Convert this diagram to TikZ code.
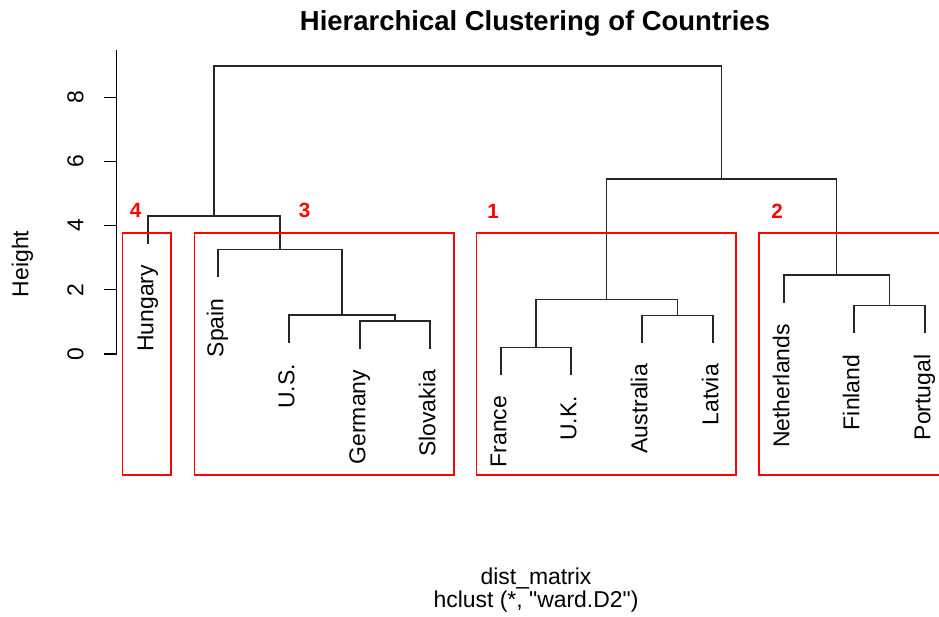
\documentclass[tikz,border=0pt]{standalone}
\usepackage{fontspec}
\setmainfont{Liberation Sans}

\tikzset{every picture/.style={line width=0.75pt}}
\tikzset{
  link/.style={draw=black!85, line width=1.1pt},
  grpbox/.style={draw=red, line width=1pt},
  leaflbl/.style={rotate=90, anchor=base east, inner sep=0pt, font=\fontsize{17.2}{20}\selectfont},
  ticklbl/.style={rotate=90, anchor=base, inner sep=0pt, font=\fontsize{17.2}{20}\selectfont},
  grplbl/.style={text=red, inner sep=0pt, font=\fontsize{15.5}{18}\selectfont\bfseries},
  axlbl/.style={anchor=base, inner sep=0pt, font=\fontsize{17.2}{20}\selectfont}
}

\begin{document}
\begin{tikzpicture}[x=0.75pt,y=0.75pt,yscale=-1,xscale=1]
\useasboundingbox (0,0) rectangle (939,617);

%Leaf ends
\coordinate (hun) at (148,243.5);
\coordinate (spa) at (218,277);
\coordinate (usa) at (289,342.5);
\coordinate (ger) at (360,348.5);
\coordinate (slo) at (430,348.5);
\coordinate (fra) at (501,374.5);
\coordinate (ukd) at (571,374.5);
\coordinate (aus) at (642,342.7);
\coordinate (lat) at (713,342.7);
\coordinate (net) at (784,302.7);
\coordinate (fin) at (854,333.3);
\coordinate (por) at (925,333.3);

%Merge points
\coordinate (mGS) at (395,321);
\coordinate (mUS) at (342,315);
\coordinate (mSp) at (280,249.3);
\coordinate (mHu) at (214,216);
\coordinate (mFU) at (536,347.3);
\coordinate (mAL) at (677.5,315.3);
\coordinate (mC1) at (606.75,299.3);
\coordinate (mFP) at (889.5,305.7);
\coordinate (mC2) at (836.75,275);
\coordinate (mRt) at (721.75,179);
\coordinate (mTop) at (467.9,66);

%Straight Lines
\draw [link] (ger) |- (mGS) -| (slo);
\draw [link] (usa) |- (mUS) -| (mGS);
\draw [link] (spa) |- (mSp) -| (mUS);
\draw [link] (hun) |- (mHu) -| (mSp);
\draw [link] (fra) |- (mFU) -| (ukd);
\draw [link] (aus) |- (mAL) -| (lat);
\draw [link] (mFU) |- (mC1) -| (mAL);
\draw [link] (fin) |- (mFP) -| (por);
\draw [link] (net) |- (mC2) -| (mFP);
\draw [link] (mC1) |- (mRt) -| (mC2);
\draw [link] (mHu) |- (mTop) -| (mRt);

%Shape: Rectangle
\draw [grpbox] (122.7,233) -- (171,233) -- (171,475) -- (122.7,475) -- cycle;
\draw [grpbox] (194.3,233) -- (454,233) -- (454,475) -- (194.3,475) -- cycle;
\draw [grpbox] (476.7,233) -- (736,233) -- (736,475) -- (476.7,475) -- cycle;
\draw [grpbox] (939,233) -- (759,233) -- (759,475) -- (939,475);

%Axis
\draw [line width=1pt] (116.7,50) -- (116.7,354);
\draw [line width=1pt] (104,354) -- (116.7,354);
\draw [line width=1pt] (104,289.8) -- (116.7,289.8);
\draw [line width=1pt] (104,225.6) -- (116.7,225.6);
\draw [line width=1pt] (104,161.4) -- (116.7,161.4);
\draw [line width=1pt] (104,97.2) -- (116.7,97.2);

% Text Node
\node [ticklbl] (t0) at (83.3,354) {0};
\node [ticklbl] (t2) at (83.3,289.8) {2};
\node [ticklbl] (t4) at (83.3,225.6) {4};
\node [ticklbl] (t6) at (83.3,161.4) {6};
\node [ticklbl] (t8) at (83.3,97.2) {8};
\node [ticklbl] (ylab) at (28.3,264) {Height};

% Text Node
\node [leaflbl] (lhun) at (153.3,264.5) {Hungary};
\node [leaflbl] (lspa) at (223.3,298) {Spain};
\node [leaflbl] (lusa) at (294.3,363.5) {U.S.};
\node [leaflbl] (lger) at (365.3,369.5) {Germany};
\node [leaflbl] (lslo) at (435.3,369.5) {Slovakia};
\node [leaflbl] (lfra) at (506.3,395.5) {France};
\node [leaflbl] (lukd) at (576.3,395.5) {U.K.};
\node [leaflbl] (laus) at (647.3,363.7) {Australia};
\node [leaflbl] (llat) at (718.3,363.7) {Latvia};
\node [leaflbl] (lnet) at (789.3,323.7) {Netherlands};
\node [leaflbl] (lfin) at (859.3,354.3) {Finland};
\node [leaflbl] (lpor) at (930.3,354.3) {Portugal};

% Text Node
\node [grplbl] (g4) at (135.5,210.5) {4};
\node [grplbl] (g3) at (304.5,210.5) {3};
\node [grplbl] (g1) at (493,211) {1};
\node [grplbl] (g2) at (777,211) {2};

% Text Node
\node [axlbl, font=\fontsize{20.6}{24}\selectfont\bfseries] (title) at (535,31) {Hierarchical Clustering of Countries};
\node [axlbl] (xlab) at (536,584.5) {dist\_matrix};
\node [axlbl] (sub) at (536,607) {hclust (*, \textquotedbl ward.D2\textquotedbl)};

\end{tikzpicture}
\end{document}
